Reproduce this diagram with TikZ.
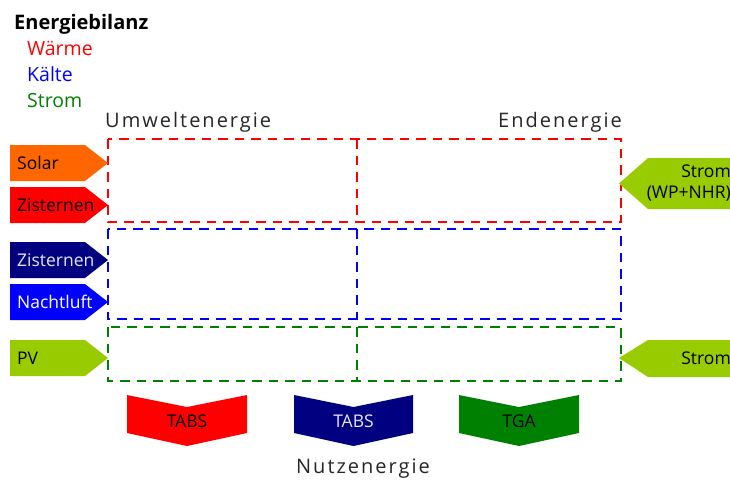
\documentclass[tikz,border=0pt]{standalone}
\usepackage{fontspec}
\setmainfont{Open Sans}
\newfontfamily\spaced[LetterSpace=10]{Open Sans}
\definecolor{cRed}{RGB}{255,0,0}
\definecolor{cOrange}{RGB}{255,102,0}
\definecolor{cNavy}{RGB}{0,0,128}
\definecolor{cBlue}{RGB}{0,0,255}
\definecolor{cLime}{RGB}{153,204,0}
\definecolor{cGreen}{RGB}{0,128,0}
\definecolor{cWhiteTxt}{RGB}{230,230,240}
\tikzset{
  boxline/.style={line width=2.7pt, dash pattern=on 9.5pt off 7pt},
  lbl/.style={inner sep=0pt, font=\fontsize{17.5}{20}\selectfont},
  head/.style={inner sep=0pt, font=\fontsize{20}{24}\selectfont\spaced, text=black!85},
  legend/.style={inner sep=0pt, anchor=base west, font=\fontsize{19.5}{22}\selectfont},
}
\newcommand{\larrowshape}[6]{% name, top, bot, fill, textcolor, text
  \fill[#4] (10,#2) -- (85,#2) -- (108,{(#2+#3)/2}) -- (85,#3) -- (10,#3) -- cycle;
  \node[lbl, text=#5, anchor=west] (#1) at (17,{(#2+#3)/2}) {#6};
}
\newcommand{\chevshape}[6]{% name, left, right, fill, textcolor, text
  \fill[#4] (#2,395) -- ({(#2+#3)/2},407) -- (#3,395) -- (#3,433) -- ({(#2+#3)/2},446) -- (#2,433) -- cycle;
  \node[lbl, text=#5] (#1) at ({(#2+#3)/2},421) {#6};
}
\begin{document}
\begin{tikzpicture}[x=1pt,y=-1pt]
\useasboundingbox (0,0) rectangle (730,479);
% legend
\node[legend, font=\fontsize{20}{22}\selectfont\bfseries] (title) at (14,29) {Energiebilanz};
\node[legend, text=cRed] (lw) at (27,55) {Wärme};
\node[legend, text=cBlue] (lk) at (27,81) {Kälte};
\node[legend, text=cGreen] (ls) at (27,107) {Strom};
% headings
\node[head, anchor=base west] (umw) at (105,127) {Umweltenergie};
\node[head, anchor=base east] (end) at (622,127) {Endenergie};
\node[head, anchor=base] (nutz) at (363,473) {Nutzenergie};
% boxes
\draw[boxline, cRed] (108,139) rectangle (621,222);
\draw[boxline, cRed] (357,139) -- (357,222);
\draw[boxline, cBlue] (108,229) rectangle (621,319);
\draw[boxline, cBlue] (357,229) -- (357,319);
\draw[boxline, cGreen] (108,327) rectangle (621,381);
\draw[boxline, cGreen] (357,327) -- (357,381);
% left arrows
\larrowshape{solar}{145}{181}{cOrange}{black}{Solar}
\larrowshape{zisr}{187}{223}{cRed}{black}{Zisternen}
\larrowshape{zisb}{242}{278}{cNavy}{cWhiteTxt}{Zisternen}
\larrowshape{nacht}{284}{320}{cBlue}{white}{Nachtluft}
\larrowshape{pv}{340}{376}{cLime}{black}{PV}
% right arrows
\fill[cLime] (730,158) -- (648,158) -- (619,183.5) -- (648,209) -- (730,209) -- cycle;
\node[lbl, text=black, anchor=east, align=right, font=\fontsize{17.5}{21}\selectfont] (swp) at (731,183.5) {Strom\\(WP+NHR)};
\fill[cLime] (730,340) -- (648,340) -- (619,358) -- (648,377) -- (730,377) -- cycle;
\node[lbl, text=black, anchor=east] (sr) at (731,358) {Strom};
% bottom chevrons
\chevshape{tabsr}{127}{247}{cRed}{black}{TABS}
\chevshape{tabsb}{294}{413}{cNavy}{cWhiteTxt}{TABS}
\chevshape{tga}{459}{579}{cGreen}{black}{TGA}
\end{tikzpicture}
\end{document}
